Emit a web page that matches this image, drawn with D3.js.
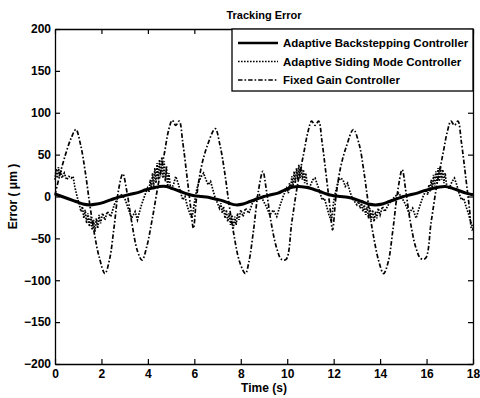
<!DOCTYPE html>
<html>
<head>
<meta charset="utf-8">
<script src="https://cdn.jsdelivr.net/npm/d3@7"></script>
<style>
    body { margin: 0; background: #fff; }
    #chart-area { width: 480px; height: 398px; }
    text { font-family: Arial, "Liberation Sans", sans-serif; fill: #000; font-weight: bold; }
</style>
</head>
<body>
<div id="chart-area"></div>
<script>

// axis ticks
let timeTicks = [0, 2, 4, 6, 8, 10, 12, 14, 16, 18];
let errorTicks = [-200, -150, -100, -50, 0, 50, 100, 150, 200];

let seriesNames = ["Adaptive Backstepping Controller", "Adaptive Siding Mode Controller", "Fixed Gain Controller"];

// [time (s), error (um)]
let backsteppingData = [
    [0, 3], [0.3, 0], [0.6, -3], [0.9, -6], [1.2, -9], [1.5, -10], [1.8, -9], [2.1, -7], [2.4, -4], [2.7, -1],
    [3.0, 1], [3.3, 3], [3.6, 5], [3.9, 8], [4.2, 10], [4.5, 12], [4.8, 12], [5.1, 9], [5.4, 6], [5.7, 3],
    [6.0, 1], [6.3, 0], [6.6, -1], [6.9, -3], [7.2, -5], [7.5, -8], [7.8, -10], [8.1, -9], [8.4, -6], [8.7, -3],
    [9.0, 0], [9.3, 2], [9.6, 4], [9.9, 8], [10.2, 11], [10.5, 12], [10.8, 11], [11.1, 9], [11.4, 6], [11.7, 3],
    [12.0, 1], [12.3, 0], [12.6, -1], [12.9, -3], [13.2, -6], [13.5, -9], [13.8, -10], [14.1, -9], [14.4, -6], [14.7, -3],
    [15.0, 0], [15.3, 2], [15.6, 4], [15.9, 7], [16.2, 9], [16.5, 11], [16.8, 12], [17.1, 10], [17.4, 7], [17.7, 4], [18.0, 2]
];

let slidingModeData = [
    [0, 20], [0.05, 33], [0.1, 22], [0.15, 35], [0.2, 24], [0.25, 32], [0.3, 22], [0.4, 28], [0.5, 20], [0.6, 24],
    [0.7, 22], [0.78, 24], [0.85, 12], [0.95, 0], [1.05, -10], [1.12, -18], [1.18, -12], [1.24, -26], [1.3, -16], [1.36, -32],
    [1.42, -20], [1.48, -36], [1.54, -24], [1.6, -40], [1.66, -28], [1.72, -42], [1.78, -26], [1.84, -38], [1.9, -22], [1.96, -32],
    [2.05, -20], [2.15, -28], [2.25, -18], [2.4, -24], [2.55, -10], [2.7, -2], [2.85, 2], [3.0, -2], [3.15, -14], [3.3, -26],
    [3.45, -18], [3.55, -28], [3.7, -12], [3.85, 0], [3.98, 10], [4.05, 5], [4.1, 20], [4.15, 10], [4.2, 28], [4.25, 12],
    [4.3, 34], [4.35, 16], [4.4, 40], [4.45, 20], [4.5, 44], [4.55, 24], [4.6, 47], [4.65, 22], [4.7, 42], [4.75, 18],
    [4.8, 36], [4.85, 12], [4.9, 28], [4.98, 8], [5.1, 14], [5.2, 24], [5.3, 16], [5.4, 6], [5.5, -4], [5.6, 0],
    [5.7, -12], [5.8, -20], [5.9, -26], [6.0, -8],
    [6.1, 8], [6.2, 18], [6.3, 24], [6.4, 28], [6.5, 20], [6.6, 14], [6.7, 18], [6.8, 8], [6.9, -2], [7.0, -8],
    [7.08, -14], [7.14, -8], [7.2, -20], [7.26, -12], [7.32, -26], [7.38, -16], [7.44, -30], [7.5, -20], [7.56, -34], [7.62, -22],
    [7.68, -38], [7.74, -24], [7.8, -34], [7.86, -20], [7.92, -28], [8.0, -16], [8.1, -24], [8.2, -14], [8.35, -20], [8.5, -8],
    [8.65, -2], [8.8, 2], [8.95, -4], [9.1, -12], [9.25, -22], [9.4, -16], [9.55, -24], [9.7, -10], [9.85, 2], [9.98, 10],
    [10.05, 4], [10.1, 16], [10.15, 8], [10.2, 24], [10.25, 12], [10.3, 30], [10.35, 16], [10.4, 34], [10.45, 20], [10.5, 38],
    [10.55, 22], [10.6, 36], [10.65, 20], [10.7, 32], [10.75, 16], [10.8, 28], [10.88, 10], [10.98, 12], [11.1, 20], [11.2, 22],
    [11.3, 14], [11.4, 6], [11.5, -4], [11.6, -2], [11.7, -12], [11.8, -22], [11.9, -30], [12.0, -6],
    [12.1, 8], [12.2, 18], [12.3, 22], [12.4, 20], [12.5, 12], [12.6, 16], [12.7, 6], [12.8, -2], [12.9, -6], [13.0, -10],
    [13.08, -6], [13.14, -14], [13.2, -8], [13.26, -18], [13.32, -10], [13.38, -22], [13.44, -12], [13.5, -26], [13.56, -14], [13.62, -28],
    [13.68, -16], [13.74, -30], [13.8, -18], [13.86, -26], [13.92, -14], [14.0, -22], [14.1, -12], [14.2, -18], [14.35, -10], [14.5, -4],
    [14.65, 0], [14.8, 4], [14.95, -2], [15.1, -10], [15.25, -20], [15.4, -14], [15.55, -26], [15.7, -12], [15.85, 0], [15.98, 8],
    [16.05, 2], [16.1, 14], [16.15, 6], [16.2, 20], [16.25, 10], [16.3, 26], [16.35, 12], [16.4, 30], [16.45, 16], [16.5, 34],
    [16.55, 18], [16.6, 36], [16.65, 20], [16.7, 32], [16.75, 16], [16.8, 28], [16.88, 10], [16.98, 10], [17.1, 18], [17.2, 22],
    [17.3, 14], [17.4, 4], [17.5, -4], [17.6, -2], [17.7, -12], [17.8, -20], [17.9, -30], [18.0, -38]
];

let fixedGainData = [
    [0, 2], [0.2, 25], [0.45, 50], [0.7, 70], [0.9, 80], [1.1, 62], [1.3, 30], [1.5, -10], [1.7, -45], [1.9, -72],
    [2.15, -92], [2.35, -75], [2.55, -35], [2.75, 10], [2.92, 27], [3.1, 5], [3.3, -30], [3.55, -65], [3.75, -76], [3.95, -60],
    [4.2, -25], [4.45, 15], [4.7, 50], [4.9, 80], [5.05, 91], [5.2, 85], [5.35, 90], [5.5, 65], [5.7, 20], [5.85, -15], [5.96, -38],
    [6.1, 0], [6.3, 35], [6.55, 60], [6.9, 81], [7.1, 62], [7.3, 30], [7.5, -10], [7.7, -45], [7.95, -78],
    [8.2, -92], [8.35, -78], [8.55, -40], [8.75, 5], [8.95, 30], [9.1, 8], [9.3, -30], [9.55, -62], [9.75, -75], [9.95, -75],
    [10.2, -30], [10.45, 15], [10.7, 50], [10.9, 78], [11.05, 90], [11.2, 85], [11.35, 90], [11.5, 65], [11.7, 20], [11.85, -15], [11.95, -40],
    [12.1, 0], [12.3, 35], [12.55, 60], [12.85, 80], [13.1, 62], [13.3, 30], [13.5, -10], [13.7, -45], [13.95, -78],
    [14.15, -92], [14.35, -78], [14.55, -40], [14.75, 5], [14.95, 32], [15.1, 8], [15.3, -30], [15.55, -62], [15.75, -74], [15.95, -74],
    [16.2, -30], [16.45, 15], [16.7, 50], [16.9, 78], [17.05, 90], [17.2, 85], [17.35, 90], [17.5, 65], [17.7, 20], [17.85, -15], [17.95, -40], [18, -38]
];


class TrackingVis {

    constructor(_parentElement) {
        this.parentElement = _parentElement;
        this.initVis();
    }

    initVis() {
        let vis = this;

        vis.margin = {top: 29, right: 7, bottom: 34, left: 55};
        vis.width = 480 - vis.margin.left - vis.margin.right;
        vis.height = 398 - vis.margin.top - vis.margin.bottom;

        vis.svg = d3.select("#" + vis.parentElement).append("svg")
            .attr("width", 480)
            .attr("height", 398);

        vis.g = vis.svg.append("g")
            .attr("transform", `translate(${vis.margin.left}, ${vis.margin.top})`);

        // scales
        vis.x = d3.scaleLinear().domain([0, 18]).range([0, vis.width]);
        vis.y = d3.scaleLinear().domain([-200, 200]).range([vis.height, 0]);

        // matlab style axes, ticks pointing inward on all sides
        vis.g.append("g")
            .attr("class", "x-axis")
            .attr("transform", `translate(0, ${vis.height})`)
            .call(d3.axisBottom(vis.x).tickValues(timeTicks).tickSizeInner(-5).tickSizeOuter(0).tickPadding(5));
        vis.g.append("g")
            .call(d3.axisTop(vis.x).tickValues(timeTicks).tickSizeInner(-5).tickSizeOuter(0).tickFormat(""));
        vis.g.append("g")
            .attr("class", "y-axis")
            .call(d3.axisLeft(vis.y).tickValues(errorTicks).tickSizeInner(-5).tickSizeOuter(0).tickPadding(4));
        vis.g.append("g")
            .attr("transform", `translate(${vis.width}, 0)`)
            .call(d3.axisRight(vis.y).tickValues(errorTicks).tickSizeInner(-5).tickSizeOuter(0).tickFormat(""));

        vis.g.selectAll(".domain").attr("stroke", "#000").attr("stroke-width", 1.3);
        vis.g.selectAll(".tick line").attr("stroke", "#000").attr("stroke-width", 1.2);
        vis.g.selectAll(".tick text")
            .attr("font-size", 12)
            .attr("font-family", "Arial, 'Liberation Sans', sans-serif")
            .attr("fill", "#000");

        // title and labels
        vis.svg.append("text")
            .attr("x", vis.margin.left + vis.width / 2)
            .attr("y", 19)
            .attr("text-anchor", "middle")
            .attr("font-size", 11)
            .text("Tracking Error");

        vis.svg.append("text")
            .attr("x", vis.margin.left + vis.width / 2)
            .attr("y", 392)
            .attr("text-anchor", "middle")
            .attr("font-size", 12)
            .text("Time (s)");

        vis.svg.append("text")
            .attr("transform", `translate(17, ${vis.margin.top + vis.height / 2}) rotate(-90)`)
            .attr("text-anchor", "middle")
            .attr("font-size", 12)
            .text("Error ( \u03bcm )");

        vis.lineGroup = vis.g.append("g");
        vis.legendGroup = vis.g.append("g");

        vis.wrangleData();
    }

    wrangleData() {
        let vis = this;

        vis.series = [
            {name: seriesNames[0], values: backsteppingData, dash: null, width: 3, curve: d3.curveCatmullRom},
            {name: seriesNames[1], values: slidingModeData, dash: "1.6,1.4", width: 1.7, curve: d3.curveLinear},
            {name: seriesNames[2], values: fixedGainData, dash: "4.5,2,1.6,2", width: 1.7, curve: d3.curveCatmullRom}
        ];

        vis.updateVis();
    }

    updateVis() {
        let vis = this;

        vis.lineGroup.selectAll("path")
            .data(vis.series.slice().reverse())
            .enter().append("path")
            .attr("fill", "none")
            .attr("stroke", "#000")
            .attr("stroke-width", d => d.width)
            .attr("stroke-dasharray", d => d.dash)
            .attr("d", d => d3.line()
                .x(p => vis.x(p[0]))
                .y(p => vis.y(p[1]))
                .curve(d.curve)(d.values));

        // legend box in the upper right corner
        let legendX = 177, legendW = vis.width - legendX;
        vis.legendGroup.append("rect")
            .attr("x", legendX)
            .attr("y", 0)
            .attr("width", legendW)
            .attr("height", 62)
            .attr("fill", "#fff")
            .attr("stroke", "#000")
            .attr("stroke-width", 1.3);

        let item = vis.legendGroup.selectAll(".legend-item")
            .data(vis.series)
            .enter().append("g")
            .attr("class", "legend-item")
            .attr("transform", (d, i) => `translate(${legendX}, ${14 + i * 18.5})`);

        item.append("line")
            .attr("x1", 6)
            .attr("x2", 46)
            .attr("stroke", "#000")
            .attr("stroke-width", d => Math.min(d.width, 2.4))
            .attr("stroke-dasharray", d => d.dash);

        item.append("text")
            .attr("x", 51)
            .attr("dy", "0.35em")
            .attr("font-size", 11.5)
            .text(d => d.name);
    }
}

let trackingVis = new TrackingVis("chart-area");

</script>
</body>
</html>
